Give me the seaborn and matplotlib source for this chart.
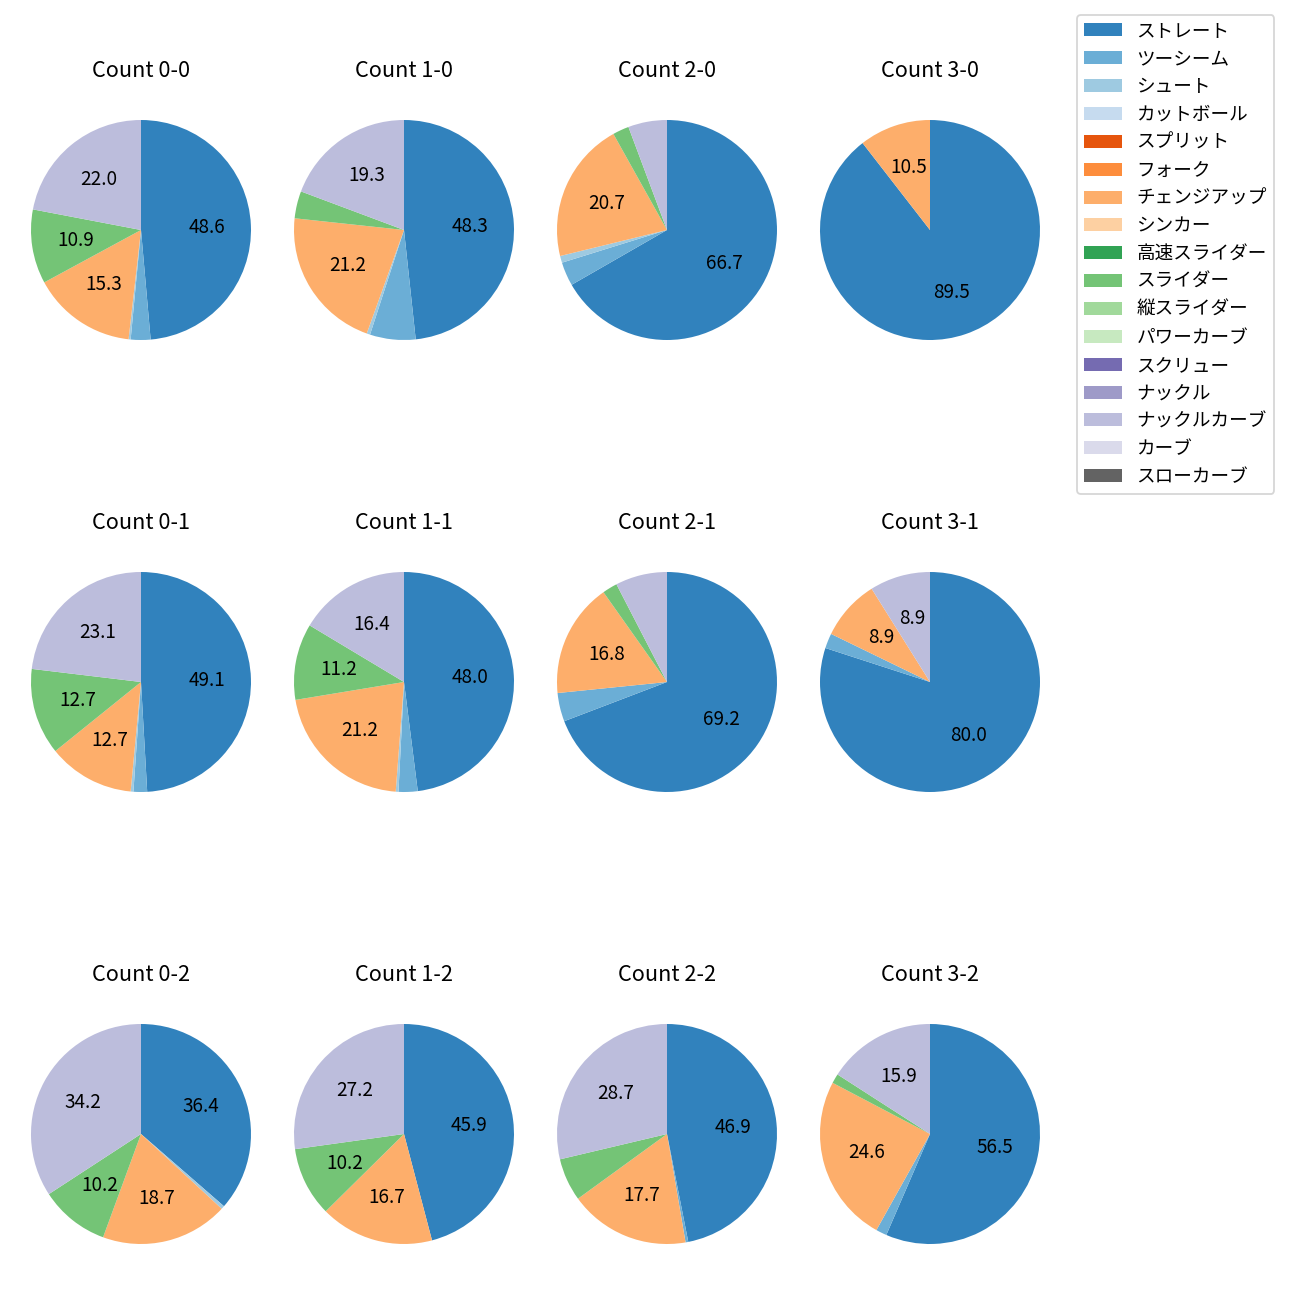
import matplotlib
matplotlib.use("Agg")
import matplotlib.pyplot as plt
import matplotlib.patches as mpatches
import seaborn as sns

plt.rcParams['font.family'] = ['Noto Sans CJK JP', 'DejaVu Sans']
plt.rcParams['text.color'] = 'black'

pitch_types = ["ストレート", "ツーシーム", "シュート", "カットボール", "スプリット", "フォーク",
               "チェンジアップ", "シンカー", "高速スライダー", "スライダー", "縦スライダー",
               "パワーカーブ", "スクリュー", "ナックル", "ナックルカーブ", "カーブ", "スローカーブ"]

balls = [0, 1, 2, 3]
strikes = [0, 1, 2]

#            ストレ ツーシ シュー カット スプリ フォー チェン シンカ 高速ス スライ 縦スラ パワー スクリ ナック Nカーブ カーブ スロー
share_0_0 = [48.6, 2.9, 0.3, 0, 0, 0, 15.3, 0, 0, 10.9, 0, 0, 0, 0, 22.0, 0, 0]
share_1_0 = [48.3, 6.7, 0.5, 0, 0, 0, 21.2, 0, 0, 4.0, 0, 0, 0, 0, 19.3, 0, 0]
share_2_0 = [66.7, 3.5, 1.0, 0, 0, 0, 20.7, 0, 0, 2.4, 0, 0, 0, 0, 5.7, 0, 0]
share_3_0 = [89.5, 0, 0, 0, 0, 0, 10.5, 0, 0, 0, 0, 0, 0, 0, 0, 0, 0]
share_0_1 = [49.1, 2.0, 0.4, 0, 0, 0, 12.7, 0, 0, 12.7, 0, 0, 0, 0, 23.1, 0, 0]
share_1_1 = [48.0, 2.8, 0.4, 0, 0, 0, 21.2, 0, 0, 11.2, 0, 0, 0, 0, 16.4, 0, 0]
share_2_1 = [69.2, 4.2, 0, 0, 0, 0, 16.8, 0, 0, 2.2, 0, 0, 0, 0, 7.6, 0, 0]
share_3_1 = [80.0, 2.2, 0, 0, 0, 0, 8.9, 0, 0, 0, 0, 0, 0, 0, 8.9, 0, 0]
share_0_2 = [36.4, 0, 0.5, 0, 0, 0, 18.7, 0, 0, 10.2, 0, 0, 0, 0, 34.2, 0, 0]
share_1_2 = [45.9, 0, 0, 0, 0, 0, 16.7, 0, 0, 10.2, 0, 0, 0, 0, 27.2, 0, 0]
share_2_2 = [46.9, 0.4, 0, 0, 0, 0, 17.7, 0, 0, 6.3, 0, 0, 0, 0, 28.7, 0, 0]
share_3_2 = [56.5, 1.6, 0, 0, 0, 0, 24.6, 0, 0, 1.4, 0, 0, 0, 0, 15.9, 0, 0]

shares = {
    (0, 0): share_0_0, (1, 0): share_1_0, (2, 0): share_2_0, (3, 0): share_3_0,
    (0, 1): share_0_1, (1, 1): share_1_1, (2, 1): share_2_1, (3, 1): share_3_1,
    (0, 2): share_0_2, (1, 2): share_1_2, (2, 2): share_2_2, (3, 2): share_3_2,
}

palette = sns.color_palette("tab20c", 20)
colors = list(palette[:16]) + [palette[16]]

fig, axes = plt.subplots(3, 4, figsize=(10, 10), dpi=130)
fig.subplots_adjust(left=0.01538, right=0.80846, bottom=0.01808, top=0.93269,
                    wspace=0.0868, hspace=0.586)

for r, s in enumerate(strikes):
    for c, b in enumerate(balls):
        ax = axes[r, c]
        vals = shares[(b, s)]
        ax.pie(vals, colors=colors, startangle=90, counterclock=False,
               autopct=lambda p: f"{p:.1f}" if p >= 8 else "",
               pctdistance=0.6, textprops={"fontsize": 10.5, "color": "black"},
               wedgeprops={"linewidth": 0})
        ax.set_xlim(-1.1, 1.1)
        ax.set_ylim(-1.1, 1.1)
        ax.set_aspect("equal", adjustable="datalim")
        ax.set_title(f"Count {b}-{s}", fontsize=12, color="black")

handles = [mpatches.Patch(facecolor=col, edgecolor="none", label=name)
           for name, col in zip(pitch_types, colors)]
fig.legend(handles=handles, loc="upper left",
           bbox_to_anchor=(1077 / 1300, 1 - 15 / 1300), borderaxespad=0,
           fontsize=10.3, labelspacing=0.53)

fig.savefig("out.png", dpi=130)
